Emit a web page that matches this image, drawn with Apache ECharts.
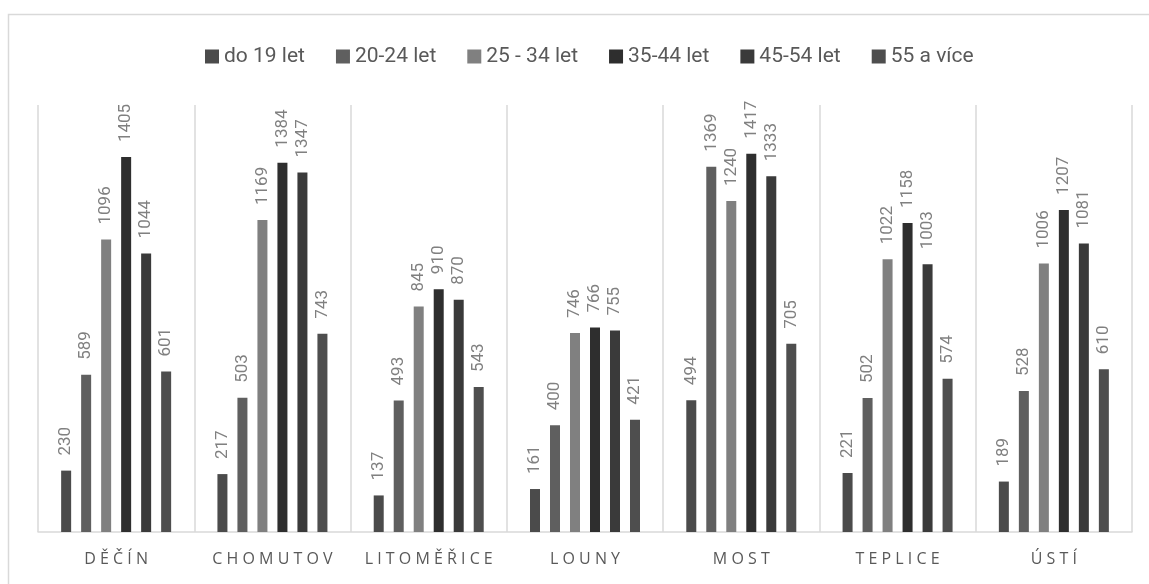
<!DOCTYPE html>
<html>
<head>
<meta charset="utf-8">
<script src="https://cdn.jsdelivr.net/npm/echarts@6/dist/echarts.min.js"></script>
<style>
html,body{margin:0;padding:0;background:#fff;}
#c{width:1149px;height:584px;}
</style>
</head>
<body>
<div id="c"></div>
<script>
const categories = ['DĚČÍN','CHOMUTOV','LITOMĚŘICE','LOUNY','MOST','TEPLICE','ÚSTÍ'];
const seriesNames = ['do 19 let','20-24 let','25 - 34 let','35-44 let','45-54 let','55 a více'];
const s_do19 = [230,217,137,161,494,221,189];
const s_20_24 = [589,503,493,400,1369,502,528];
const s_25_34 = [1096,1169,845,746,1240,1022,1006];
const s_35_44 = [1405,1384,910,766,1417,1158,1207];
const s_45_54 = [1044,1347,870,755,1333,1003,1081];
const s_55 = [601,743,543,421,705,574,610];
const seriesData = [s_do19,s_20_24,s_25_34,s_35_44,s_45_54,s_55];
const colors = ['#4b4b4b','#5f5f5f','#808080','#2e2e2e','#3a3a3a','#4e4e4e'];

const chart = echarts.init(document.getElementById('c'), null, {renderer:'canvas'});
chart.setOption({
  animation:false,
  color: colors,
  graphic:[{type:'rect',shape:{x:8.5,y:14.5,width:1300,height:700},style:{fill:'none',stroke:'#d9d9d9',lineWidth:1.5},silent:true}],
  legend:{
    top:41, left:200,
    icon:'rect', itemWidth:14, itemHeight:14, itemGap:31,
    textStyle:{color:'#595959',fontSize:21,fontFamily:'Roboto'},
    data: seriesNames
  },
  grid:{left:38,right:17,top:105,bottom:52,containLabel:false},
  xAxis:{
    type:'category', data:categories,
    axisLine:{show:true,lineStyle:{color:'#d9d9d9',width:1.5}},
    axisTick:{show:false},
    splitLine:{show:true,interval:0,lineStyle:{color:'#d9d9d9',width:1.5}},
    axisLabel:{interval:0,hideOverlap:false,color:'#595959',fontSize:16,fontFamily:'Open Sans',margin:19,
      formatter:v=>v.split('').join(' ')}
  },
  yAxis:{type:'value',min:0,max:1600,show:false,splitLine:{show:false}},
  series: seriesNames.map((n,i)=>({
    name:n, type:'bar', data:seriesData[i], barWidth:10, barGap:'100%',
    itemStyle:{color:colors[i]},
    label:{show:true,position:'top',rotate:90,align:'left',verticalAlign:'middle',distance:15,
      color:'#808080',fontSize:17,fontFamily:'Roboto'}
  }))
});
</script>
</body>
</html>
